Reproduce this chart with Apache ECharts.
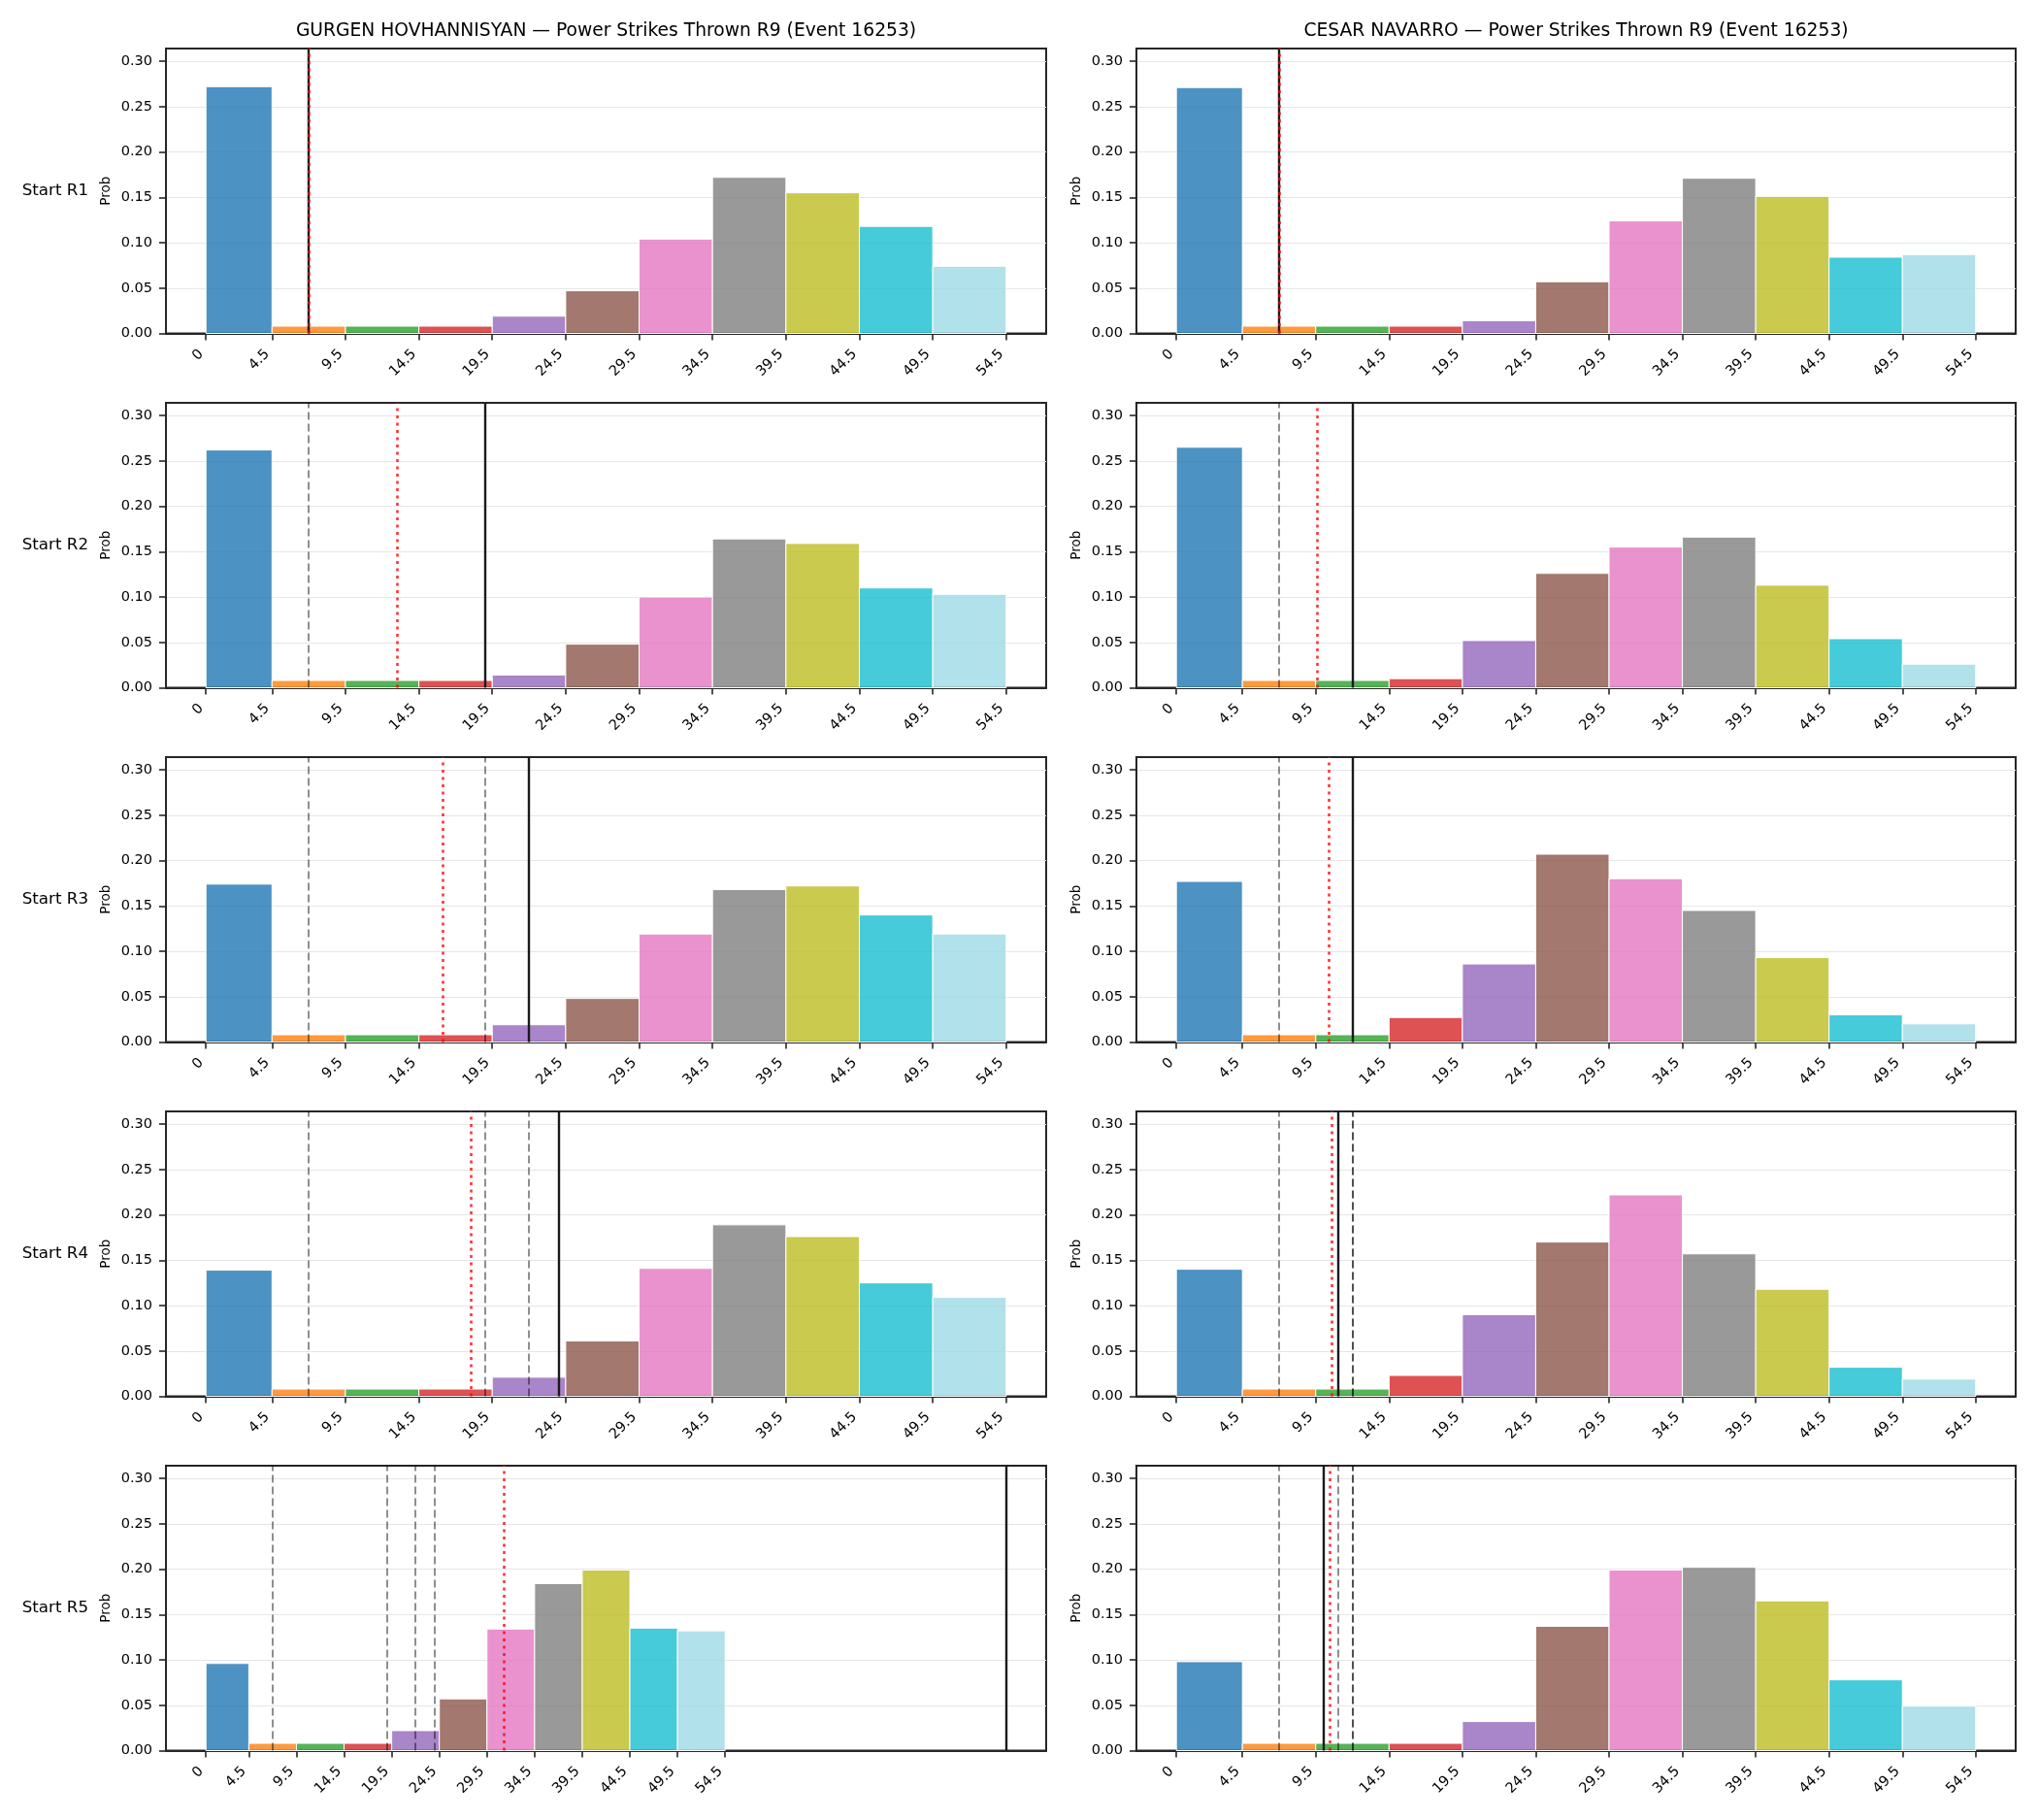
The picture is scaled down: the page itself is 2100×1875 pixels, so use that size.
<!DOCTYPE html>
<html>
<head>
<meta charset="utf-8">
<script src="https://cdn.jsdelivr.net/npm/echarts@6/dist/echarts.min.js"></script>
<style>
    html, body { margin: 0; padding: 0; background: #fff; }
    #chart { width: 2100px; height: 1875px; }
</style>
</head>
<body>
<div id="chart"></div>
<script>
// bin edges of the histogram (first bin is 0..4.5, the rest are 5 wide)
var edges = [0, 4.5, 9.5, 14.5, 19.5, 24.5, 29.5, 34.5, 39.5, 44.5, 49.5, 54.5];
var rounds = ['Start R1', 'Start R2', 'Start R3', 'Start R4', 'Start R5'];
var fighters = ['GURGEN HOVHANNISYAN', 'CESAR NAVARRO'];
var yTicks = [0, 0.05, 0.10, 0.15, 0.20, 0.25, 0.30];
var yMax = 0.314;

// probability per bin, one row per round
var gurgenProb = [
    [0.272, 0.008, 0.008, 0.008, 0.019, 0.047, 0.104, 0.172, 0.155, 0.118, 0.074],
    [0.262, 0.008, 0.008, 0.008, 0.014, 0.048, 0.100, 0.164, 0.159, 0.110, 0.103],
    [0.174, 0.008, 0.008, 0.008, 0.019, 0.048, 0.119, 0.168, 0.172, 0.140, 0.119],
    [0.139, 0.008, 0.008, 0.008, 0.021, 0.061, 0.141, 0.189, 0.176, 0.125, 0.109],
    [0.096, 0.008, 0.008, 0.008, 0.022, 0.057, 0.134, 0.184, 0.199, 0.135, 0.132]
];
var cesarProb = [
    [0.271, 0.008, 0.008, 0.008, 0.014, 0.057, 0.124, 0.171, 0.151, 0.084, 0.087],
    [0.265, 0.008, 0.008, 0.010, 0.052, 0.126, 0.155, 0.166, 0.113, 0.054, 0.026],
    [0.177, 0.008, 0.008, 0.027, 0.086, 0.207, 0.180, 0.145, 0.093, 0.030, 0.020],
    [0.140, 0.008, 0.008, 0.023, 0.090, 0.170, 0.222, 0.157, 0.118, 0.032, 0.019],
    [0.098, 0.008, 0.008, 0.008, 0.032, 0.137, 0.199, 0.202, 0.165, 0.078, 0.049]
];

// current line (solid black) and mean (red dotted) per round;
// earlier lines are shown dashed in later rounds
var gurgenLine = [7, 19, 22, 24, 84];
var gurgenMean = [7, 13.05, 16.1, 18.05, 31.3];
var cesarLine = [7, 12, 12, 11, 10];
var cesarMean = [7, 9.6, 10.4, 10.6, 10.45];

var mycolor = ["#1f77b4", "#ff7f0e", "#2ca02c", "#d62728", "#9467bd", "#8c564b",
    "#e377c2", "#7f7f7f", "#bcbd22", "#17becf", "#9edae5"];

(function () {
    var chart = echarts.init(document.getElementById('chart'));

    var FONT = 'DejaVu Sans';
    var tops = [50, 415, 780, 1145, 1510];
    var gridH = 293.5;
    var lefts = [171, 1171];
    var widths = [907, 906];
    var probs = [gurgenProb, cesarProb];
    var lines = [gurgenLine, cesarLine];
    var means = [gurgenMean, cesarMean];

    function hexA(hex, a) {
        var n = parseInt(hex.slice(1), 16);
        return 'rgba(' + (n >> 16) + ',' + ((n >> 8) & 255) + ',' + (n & 255) + ',' + a + ')';
    }

    var grids = [], xAxes = [], yAxes = [], series = [], graphics = [];
    var idx = 0;

    for (var c = 0; c < 2; c++) {
        graphics.push({
            type: 'text', x: lefts[c] + widths[c] / 2, y: 32,
            style: {
                text: fighters[c] + ' \u2014 Power Strikes Thrown R9 (Event 16253)',
                font: '18.7px "DejaVu Sans"', fill: '#000',
                textAlign: 'center', textVerticalAlign: 'middle'
            }
        });
        for (var r = 0; r < 5; r++) {
            var p = probs[c][r];
            var hi = Math.max(edges[edges.length - 1], lines[c][r]);

            grids.push({
                left: lefts[c], top: tops[r], width: widths[c], height: gridH,
                show: true, borderColor: '#262626', borderWidth: 2, backgroundColor: 'transparent'
            });
            xAxes.push({
                type: 'value', gridIndex: idx,
                min: -0.05 * hi, max: 1.05 * hi,
                splitLine: { show: false },
                axisLine: { onZero: false, lineStyle: { color: '#262626', width: 2 } },
                axisTick: { customValues: edges, length: 7, lineStyle: { color: '#262626', width: 1.6 } },
                axisLabel: {
                    customValues: edges, rotate: 45, margin: 14, padding: [0, 7, 0, 0],
                    fontFamily: FONT, fontSize: 14.5, color: '#000'
                }
            });
            yAxes.push({
                type: 'value', gridIndex: idx, min: 0, max: yMax, interval: 0.05,
                name: 'Prob', nameLocation: 'middle', nameGap: 55, nameRotate: 90,
                nameTextStyle: { fontFamily: FONT, fontSize: 13.5, color: '#000' },
                splitLine: { lineStyle: { color: '#e6e6e6', width: 1.2 } },
                axisLine: { show: true, onZero: false, lineStyle: { color: '#262626', width: 2 } },
                axisTick: { show: true, customValues: yTicks, length: 7, lineStyle: { color: '#262626', width: 1.6 } },
                axisLabel: {
                    customValues: yTicks, margin: 14,
                    fontFamily: FONT, fontSize: 14.5, color: '#000',
                    formatter: function (v) { return v.toFixed(2); }
                }
            });

            var data = [];
            for (var i = 0; i < p.length; i++) {
                data.push([edges[i], edges[i + 1], p[i]]);
            }
            series.push({
                type: 'custom', xAxisIndex: idx, yAxisIndex: idx, z: 2,
                silent: true, animation: false,
                encode: { x: [0, 1], y: 2 },
                data: data,
                renderItem: function (params, api) {
                    var a = api.coord([api.value(0), api.value(2)]);
                    var b = api.coord([api.value(1), 0]);
                    return {
                        type: 'rect',
                        shape: { x: a[0], y: a[1], width: b[0] - a[0], height: b[1] - a[1] },
                        style: { fill: hexA(mycolor[params.dataIndex], 0.8), stroke: '#fff', lineWidth: 1 }
                    };
                }
            });

            //竖线: 之前的线(虚线), 当前线(黑), 均值(红点线)
            var ml = [];
            for (var k = 0; k < r; k++) {
                ml.push({ xAxis: lines[c][k], lineStyle: { type: [8, 4], color: 'rgba(0,0,0,0.55)', width: 1.6 } });
            }
            ml.push({ xAxis: lines[c][r], lineStyle: { type: 'solid', color: '#1a1a1a', width: 2.4 } });
            ml.push({ xAxis: means[c][r], lineStyle: { type: [3, 4.5], color: 'rgba(255,0,0,0.8)', width: 2.6 } });
            series.push({
                type: 'line', xAxisIndex: idx, yAxisIndex: idx, z: 3,
                data: [], animation: false, silent: true,
                markLine: { silent: true, symbol: 'none', animation: false, label: { show: false }, data: ml }
            });

            if (c === 0) {
                graphics.push({
                    type: 'text', x: 91, y: tops[r] + gridH / 2,
                    style: {
                        text: rounds[r], font: '16.7px "DejaVu Sans"', fill: '#000',
                        textAlign: 'right', textVerticalAlign: 'middle'
                    }
                });
            }
            idx++;
        }
    }

    var option = {
        animation: false,
        backgroundColor: '#fff',
        grid: grids,
        xAxis: xAxes,
        yAxis: yAxes,
        series: series,
        graphic: graphics
    };
    chart.setOption(option);
    window.addEventListener('resize', function () {
        chart.resize();
    });
})();
</script>
</body>
</html>
